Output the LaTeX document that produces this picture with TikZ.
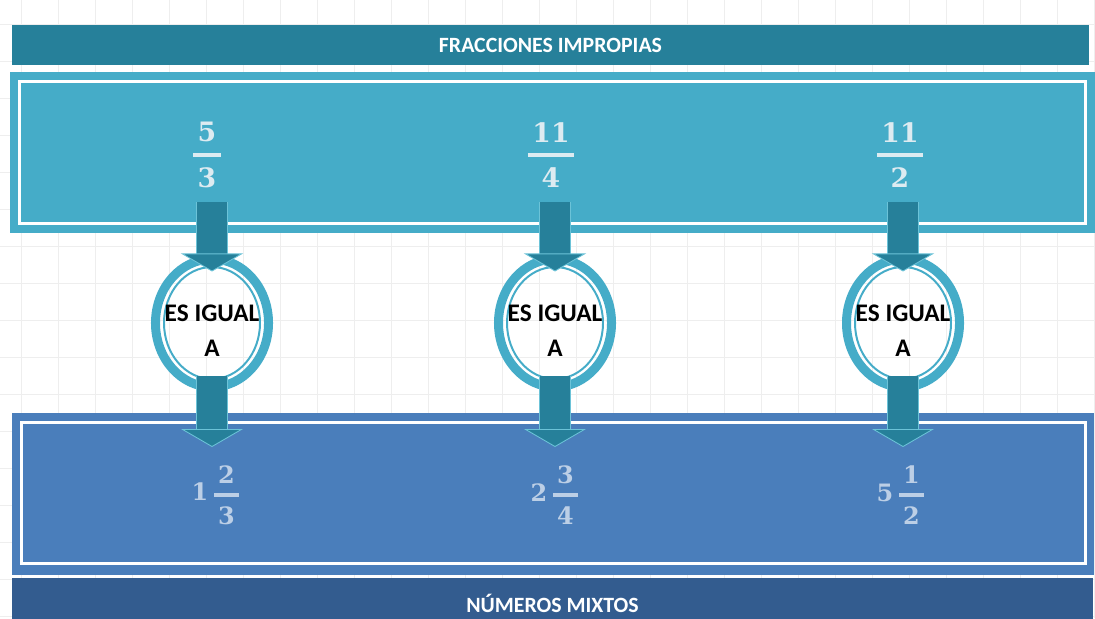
\documentclass[tikz,border=0pt]{standalone}
\usepackage{amsmath}
\usepackage{fontspec}
\setmainfont{Carlito}
\newfontfamily\numfont{DejaVu Serif}
\usetikzlibrary{shapes.geometric,arrows.meta}

\definecolor{tealdark}{HTML}{26809A}
\definecolor{tealbox}{HTML}{45ACC8}
\definecolor{tealedge}{HTML}{6CC3D8}
\definecolor{bluebox}{HTML}{4A7EBB}
\definecolor{bluedark}{HTML}{335C8F}
\definecolor{numtop}{HTML}{DDEBF1}
\definecolor{numlow}{HTML}{BCCFE6}
\definecolor{gridgray}{HTML}{EEEEEE}

% stacked fraction with a thick bar
\newcommand{\upfrac}[2]{$\genfrac{}{}{2.6pt}{0}{\mbox{\,#1\,}}{\mbox{\,#2\,}}$}
\newcommand{\mixfrac}[3]{$\mbox{#1}\,\genfrac{}{}{2.4pt}{0}{\mbox{\,#2\,}}{\mbox{\,#3\,}}$}

\begin{document}
\begin{tikzpicture}[x=0.025cm,y=-0.025cm,
    bar/.style={fill=#1,draw=none,inner sep=0pt,text=white,font=\bfseries\fontsize{15.5}{18}\selectfont},
    panel/.style={fill=#1,draw=none,inner sep=0pt},
    frameline/.style={draw=white,line width=2pt},
    ring/.style={ellipse,draw=tealbox,line width=6.4pt,minimum width=2.825cm,minimum height=3.2cm,inner sep=0pt},
    ringthin/.style={draw=tealbox,line width=1.4pt},
    saylbl/.style={align=center,font=\bfseries\fontsize{18}{25}\selectfont},
    topnum/.style={text=numtop,font=\numfont\bfseries\fontsize{19}{22}\selectfont},
    lownum/.style={text=numlow,font=\numfont\bfseries\fontsize{17}{20}\selectfont},
    flow/.style={draw=tealdark,line width=0.75cm,
        -{Triangle[width=1.55cm,length=0.45cm,fill=tealdark,color=tealedge,line width=0.6pt]},
        preaction={draw=tealedge,line width=0.8cm,arrows=-,shorten >=0.44cm}}]
    \useasboundingbox (0,0) rectangle (1095,618);
    \clip (0,0) rectangle (1095,618);
    %% background grid
    \fill[white] (0,0) rectangle (1095,618);
    \draw[gridgray,line width=0.4pt,shift={(21,24)}] (-21,-24) grid[step=0.925cm] (1074,594);
    %% title bars
    \node[bar=tealdark,minimum width=26.925cm,minimum height=1cm] (hdr) at (550.5,45) {FRACCIONES IMPROPIAS};
    \node[bar=bluedark,minimum width=27.025cm,minimum height=1.25cm] (ftr) at (552.5,603) {NÚMEROS MIXTOS};
    %% panels
    \node[panel=tealbox,minimum width=27.125cm,minimum height=4.025cm] (topbox) at (552.5,152.5) {};
    \node[panel=bluebox,minimum width=27.05cm,minimum height=4.05cm] (lowbox) at (553,494) {};
    \draw[frameline] ([xshift=0.25cm,yshift=-0.25cm]topbox.north west) rectangle ([xshift=-0.25cm,yshift=0.25cm]topbox.south east);
    \draw[frameline] ([xshift=0.25cm,yshift=-0.25cm]lowbox.north west) rectangle ([xshift=-0.22cm,yshift=0.3cm]lowbox.south east);
    %% improper fractions
    \node[topnum] (q1) at (207,155) {\upfrac{5}{3}};
    \node[topnum] (q2) at (551,155) {\upfrac{11}{4}};
    \node[topnum] (q3) at (900,155) {\upfrac{11}{2}};
    %% mixed numbers
    \node[lownum] (m1) at (216,495) {\mixfrac{1}{2}{3}};
    \node[lownum] (m2) at (555,495) {\mixfrac{2}{3}{4}};
    \node[lownum] (m3) at (901,495) {\mixfrac{5}{1}{2}};
    %% rings
    \node[ring] (c1) at (212,323) {};
    \node[ring] (c2) at (555,323) {};
    \node[ring] (c3) at (903,323) {};
    \foreach \c in {c1,c2,c3}
        \draw[ringthin] (\c.center) ellipse (48 and 56);
    \node[saylbl] (s1) at (212,331) {ES IGUAL\\A};
    \node[saylbl] (s2) at (555,331) {ES IGUAL\\A};
    \node[saylbl] (s3) at (903,331) {ES IGUAL\\A};
    %% arrow ends
    \coordinate (a1) at (212,202);
    \coordinate (a2) at (555,202);
    \coordinate (a3) at (903,202);
    \coordinate (b1) at (212,447);
    \coordinate (b2) at (555,447);
    \coordinate (b3) at (903,447);
    %% arrows
    \draw[flow] (a1) -- ([yshift=-0.425cm]c1.north);
    \draw[flow] (a2) -- ([yshift=-0.425cm]c2.north);
    \draw[flow] (a3) -- ([yshift=-0.425cm]c3.north);
    \draw[flow] ([yshift=0.4cm]c1.south) -- (b1);
    \draw[flow] ([yshift=0.4cm]c2.south) -- (b2);
    \draw[flow] ([yshift=0.4cm]c3.south) -- (b3);
\end{tikzpicture}
\end{document}
